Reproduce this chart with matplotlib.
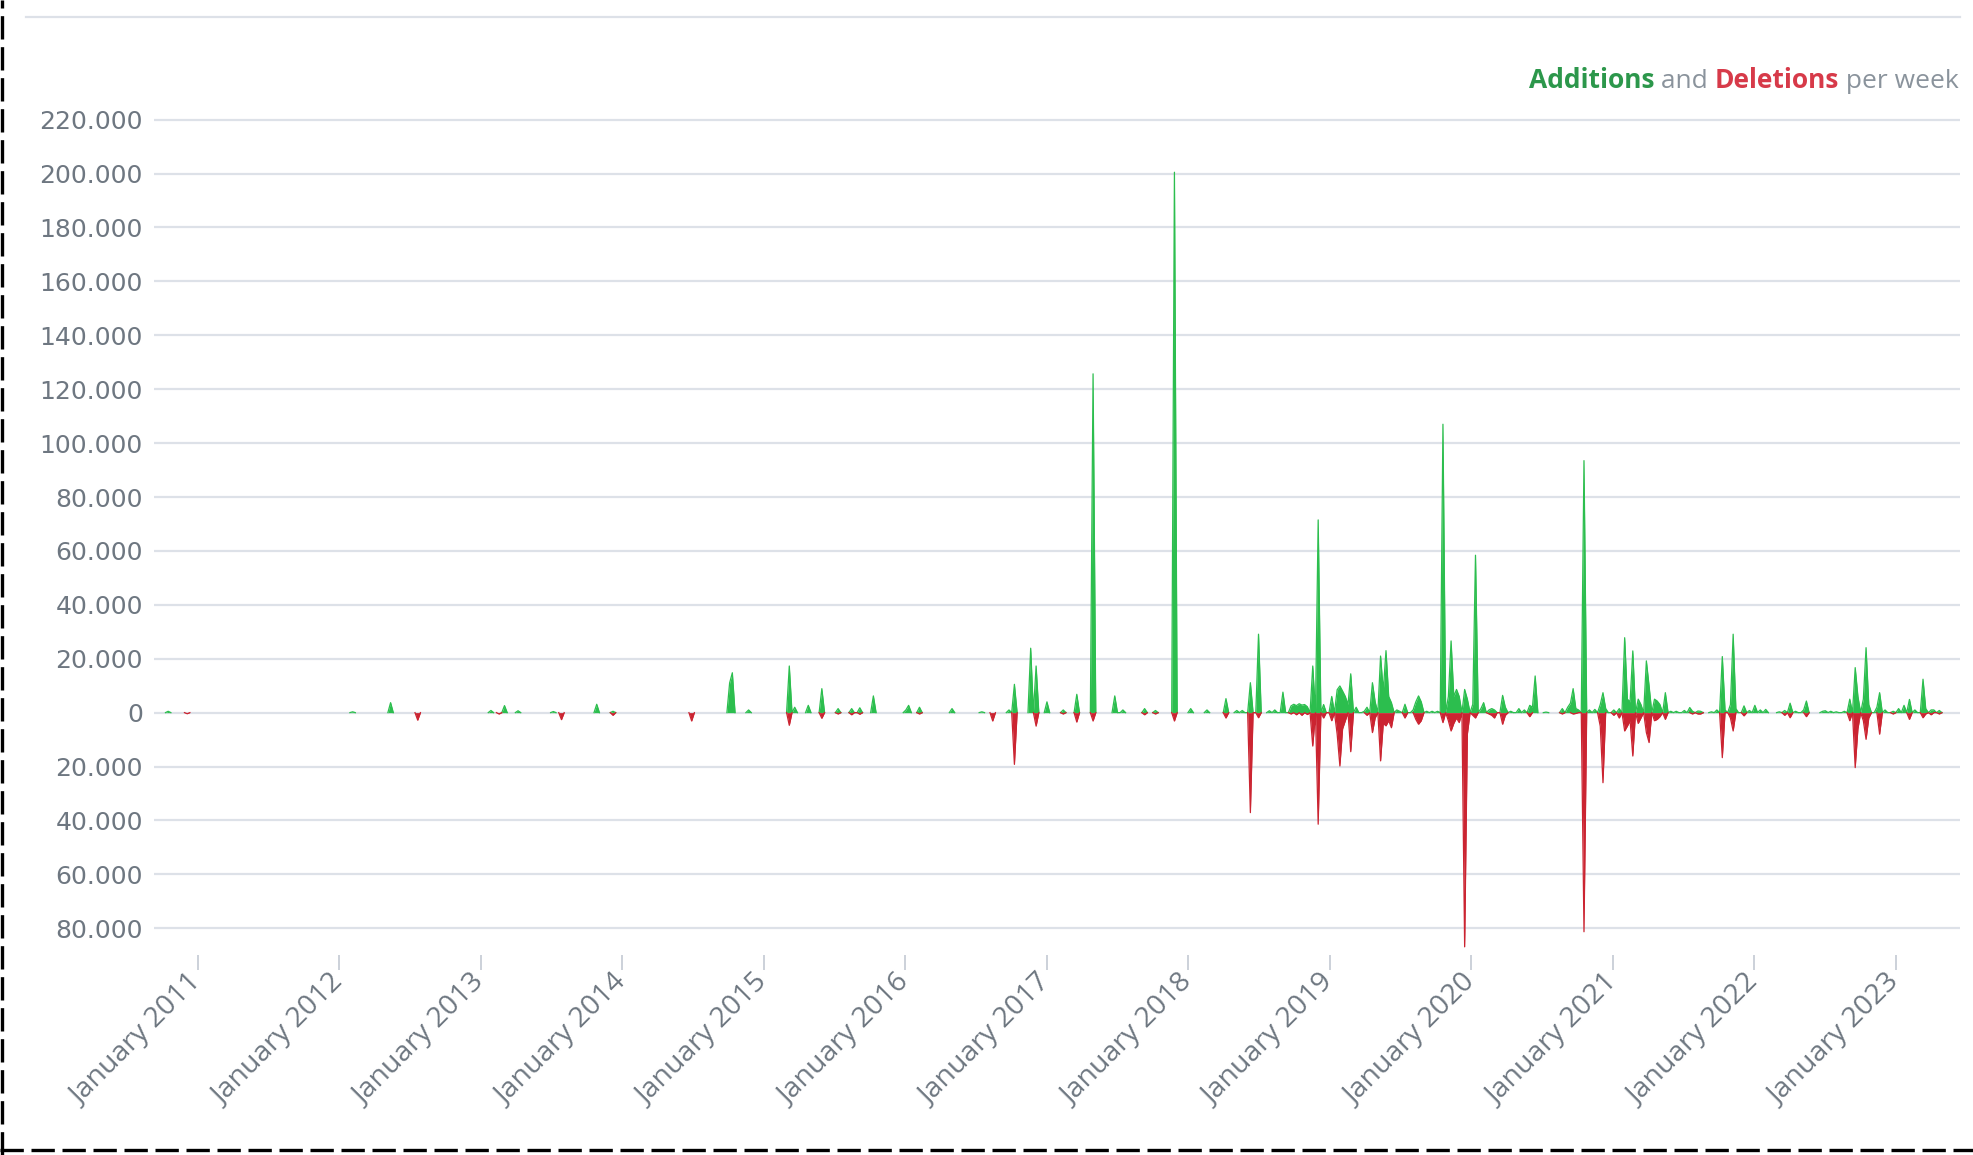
import numpy as np
import pandas as pd
import matplotlib
matplotlib.use('Agg')
from matplotlib import pyplot as plt
from matplotlib.lines import Line2D
from matplotlib.ticker import FuncFormatter

GREEN = '#2cbe4e'
RED = '#cb2431'
GRID = '#dde1e8'
LABEL = '#6e7781'

# weekly activity, week position given as decimal year
week_years = [
    2010.790, 2010.931, 2012.098, 2012.373, 2012.557, 2013.080, 2013.136, 2013.172, 2013.264, 2013.504,
    2013.575, 2013.822, 2013.935, 2014.500, 2014.755, 2014.777, 2014.897,
    2015.180, 2015.222, 2015.314, 2015.420, 2015.526, 2015.632, 2015.682, 2015.767, 2016.000, 2016.028,
    2016.106, 2016.339, 2016.544, 2016.621, 2016.741, 2016.776, 2016.894, 2016.934,
    2017.007, 2017.122, 2017.216, 2017.334, 2017.488, 2017.546, 2017.695, 2017.777, 2017.907,
    2018.025, 2018.135, 2018.272, 2018.338, 2018.380, 2018.449, 2018.503, 2018.565, 2018.607, 2018.670,
    2018.720, 2018.741, 2018.762, 2018.783, 2018.805, 2018.826, 2018.847, 2018.884, 2018.927, 2018.955,
    2019.024, 2019.045, 2019.064, 2019.083, 2019.103, 2019.124, 2019.150, 2019.190, 2019.249, 2019.269,
    2019.305, 2019.326, 2019.367, 2019.385, 2019.403, 2019.423, 2019.440, 2019.469, 2019.497, 2019.539,
    2019.581, 2019.603, 2019.626, 2019.645, 2019.688, 2019.723, 2019.758, 2019.803, 2019.836, 2019.862,
    2019.882, 2019.900, 2019.921, 2019.951, 2019.970,
    2020.003, 2020.039, 2020.062, 2020.090, 2020.119, 2020.145, 2020.175, 2020.215, 2020.239, 2020.288,
    2020.333, 2020.373, 2020.416, 2020.437, 2020.458, 2020.530, 2020.651, 2020.677, 2020.698, 2020.721,
    2020.747, 2020.769, 2020.801, 2020.840, 2020.882, 2020.910, 2020.934, 2020.960,
    2021.009, 2021.037, 2021.075, 2021.097, 2021.119, 2021.150, 2021.171, 2021.192, 2021.228, 2021.246,
    2021.264, 2021.285, 2021.307, 2021.328, 2021.377, 2021.406, 2021.455, 2021.498, 2021.534, 2021.568,
    2021.596, 2021.617, 2021.702, 2021.735, 2021.765, 2021.793, 2021.836, 2021.857, 2021.878, 2021.923,
    2021.963,
    2022.005, 2022.034, 2022.076, 2022.182, 2022.218, 2022.258, 2022.288, 2022.345, 2022.371, 2022.479,
    2022.507, 2022.536, 2022.585, 2022.630, 2022.684, 2022.713, 2022.734, 2022.762, 2022.795, 2022.818,
    2022.861, 2022.889, 2022.917, 2022.983, 2023.030, 2023.066, 2023.101, 2023.143, 2023.184, 2023.214,
    2023.242, 2023.271, 2023.299,
]

additions = [
    500, 0, 300, 3700, 0, 800, 0, 2600, 700, 400,
    0, 3100, 500, 0, 11000, 14800, 1000,
    17300, 2000, 2700, 8900, 1500, 1500, 1800, 6200, 1000, 2700,
    2000, 1500, 300, 0, 1000, 10500, 23900, 17300,
    4000, 1000, 6800, 125700, 6200, 1000, 1500, 800, 200500,
    1500, 1000, 5200, 800, 800, 11100, 29100, 700, 1000, 7600,
    2500, 3100, 2600, 3300, 2800, 3000, 2200, 17300, 71500, 3000,
    6000, 8500, 9900, 8000, 6000, 3000, 14400, 2000, 500, 2000,
    11100, 4000, 21000, 8000, 23000, 6000, 3700, 1000, 500, 3100,
    1000, 4000, 6200, 4000, 500, 500, 500, 107000, 6000, 26600,
    6000, 8600, 6000, 8600, 5000,
    3100, 58400, 1500, 3700, 1000, 1500, 1000, 6400, 2000, 500,
    1500, 1000, 2700, 2000, 13600, 200, 1500, 2000, 3500, 8900,
    1500, 1000, 93500, 1000, 1200, 3000, 7400, 1500,
    1000, 1500, 27800, 5000, 4000, 22900, 5000, 3000, 19200, 8000,
    9900, 5000, 4300, 3000, 7400, 500, 500, 800, 1900, 500,
    600, 500, 300, 1000, 20800, 1000, 3000, 29100, 1500, 2500,
    800,
    2700, 1000, 1200, 300, 800, 3500, 500, 1000, 4300, 500,
    700, 500, 300, 500, 5000, 16700, 6000, 5000, 24100, 3000,
    2000, 7400, 1000, 500, 1500, 2700, 4900, 1000, 12400, 1500,
    1000, 1000, 800,
]

deletions = [
    0, 400, 0, 0, 2800, 0, 500, 0, 0, 0,
    2600, 0, 1000, 3100, 0, 0, 0,
    4700, 0, 0, 2100, 500, 800, 600, 0, 0, 0,
    500, 0, 0, 3100, 0, 19200, 0, 5000,
    0, 500, 3500, 3100, 0, 0, 800, 500, 3100,
    0, 0, 2000, 0, 0, 37100, 1900, 0, 0, 0,
    500, 0, 800, 0, 1000, 0, 700, 12400, 41400, 2000,
    3000, 8000, 19800, 6000, 3000, 0, 14500, 0, 0, 1000,
    7400, 2000, 17900, 4000, 4900, 3000, 5600, 0, 0, 2000,
    0, 2500, 4300, 3000, 0, 0, 0, 3700, 3000, 6800,
    4000, 2000, 3700, 86900, 8000,
    1000, 2000, 0, 0, 500, 1000, 2000, 4300, 1000, 0,
    0, 0, 1500, 0, 0, 0, 500, 0, 0, 500,
    300, 0, 81300, 0, 0, 5000, 26000, 0,
    1000, 2000, 6800, 5000, 3000, 16100, 4000, 2000, 7400, 4000,
    11100, 3000, 2500, 1500, 2500, 0, 0, 0, 0, 500,
    500, 500, 0, 0, 16700, 0, 2000, 6800, 0, 1200,
    0,
    0, 0, 0, 0, 1000, 1900, 0, 0, 1500, 0,
    0, 0, 0, 0, 3000, 20400, 6000, 3000, 9900, 2000,
    0, 8000, 0, 500, 0, 0, 2500, 0, 1900, 500,
    800, 0, 500,
]

tick_years = list(range(2011, 2024))


def year_to_timestamp(year):
    whole = int(np.floor(year))
    return pd.Timestamp(year=whole, month=1, day=1) + pd.Timedelta(days=(year - whole) * 365.25)


def weekly_series():
    assert len(week_years) == len(additions) == len(deletions)
    weeks = pd.date_range('2010-09-05', '2023-06-18', freq='W-SUN')
    adds = np.zeros(len(weeks))
    dels = np.zeros(len(weeks))
    for year, a, d in zip(week_years, additions, deletions):
        idx = int(round((year_to_timestamp(year) - weeks[0]).days / 7))
        adds[idx] = max(adds[idx], a)
        dels[idx] = max(dels[idx], d)
    return weeks, adds, dels


def outline(values):
    # keep the edge line off the long empty stretches along zero
    quiet = (values == 0) & (np.roll(values, 1) == 0) & (np.roll(values, -1) == 0)
    return np.ma.masked_where(quiet, values)


def fmt_thousands(v, pos):
    v = abs(int(round(v)))
    return '{:,}'.format(v).replace(',', '.')


def plot_chart():
    weeks, adds, dels = weekly_series()

    fig = plt.figure(figsize=(19.74, 11.55), dpi=100)
    ax = fig.add_axes([154 / 1974, 1 - 955.2 / 1155, (1960 - 154) / 1974, (955.2 - 106.2) / 1155])

    ax.fill_between(weeks, 0, adds, color=GREEN, lw=0, zorder=3)
    ax.fill_between(weeks, 0, -dels, color=RED, lw=0, zorder=3)
    ax.plot(weeks, outline(adds), color=GREEN, lw=0.9, zorder=3)
    ax.plot(weeks, -outline(dels), color=RED, lw=0.9, zorder=3)

    ax.set_ylim(-90000, 225000)
    ax.set_xlim(year_to_timestamp(2010.691), year_to_timestamp(2023.453))
    ax.set_yticks(range(-80000, 220001, 20000))
    ax.yaxis.set_major_formatter(FuncFormatter(fmt_thousands))
    ax.yaxis.grid(True, color=GRID, lw=1.6)
    ax.set_axisbelow(True)
    for s in ax.spines.values():
        s.set_visible(False)
    ax.tick_params(axis='y', length=0, pad=8, labelsize=18, labelcolor=LABEL)
    for lab in ax.get_yticklabels():
        lab.set_family('DejaVu Sans')

    ticks = [pd.Timestamp(year=y, month=1, day=1) for y in tick_years]
    ax.set_xticks(ticks)
    ax.set_xticklabels(['January {}'.format(y) for y in tick_years], family='Open Sans',
                       fontsize=20.5, color=LABEL, rotation=45, ha='right', va='center',
                       rotation_mode='anchor')
    ax.tick_params(axis='x', length=11, width=1.4, color='#ccd1d9', direction='out', pad=6)

    # header: coloured legend text, built right to left
    t_per = fig.text(1959 / 1974, 1 - 82 / 1155, ' per week', ha='right', va='center',
                     family='Open Sans', fontsize=19, color='#8a939c')
    t_del = ax.annotate('Deletions', xy=(0, 0), xycoords=t_per, ha='right', va='bottom',
                        family='Open Sans', fontsize=19, fontweight='bold', color='#d73a49')
    t_and = ax.annotate(' and ', xy=(0, 0), xycoords=t_del, ha='right', va='bottom',
                        family='Open Sans', fontsize=19, color='#8a939c')
    ax.annotate('Additions', xy=(0, 0), xycoords=t_and, ha='right', va='bottom',
                family='Open Sans', fontsize=19, fontweight='bold', color='#2c974b')

    # separator line on top and dashed frame on left / bottom
    fig.add_artist(Line2D([26 / 1974, 1960 / 1974], [1 - 17 / 1155] * 2, color=GRID, lw=1.6))
    fig.add_artist(Line2D([0.0009, 0.0009], [0, 1], color='black', lw=2.4, ls=(0, (7, 2.3))))
    fig.add_artist(Line2D([0, 1], [0.0045, 0.0045], color='black', lw=2.4, ls=(0, (7, 2.3))))

    fig.savefig('out.png', dpi=100)


if __name__ == '__main__':
    plot_chart()
